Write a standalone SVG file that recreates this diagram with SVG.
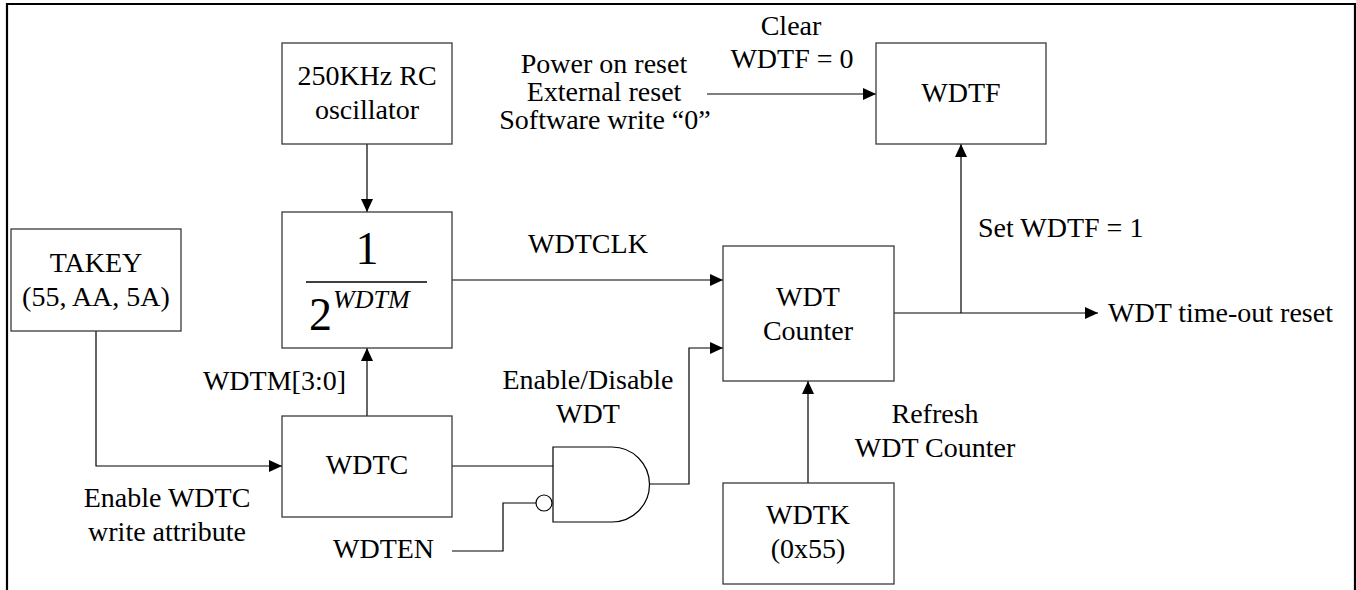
<svg xmlns="http://www.w3.org/2000/svg" width="1356" height="590" viewBox="0 0 1356 590">
<style>
.box{fill:#fff;stroke:#3a3a3a;stroke-width:1.3}
.wire{fill:none;stroke:#000;stroke-width:1.2}
.arr{marker-end:url(#ah)}
text{font-family:"Liberation Serif","Times New Roman",serif;font-size:28px;fill:#000}
.c{text-anchor:middle}
</style>
<defs>
<marker id="ah" markerUnits="userSpaceOnUse" markerWidth="13" markerHeight="12" refX="13" refY="6" orient="auto">
<path d="M0,0 L13,6 L0,12 Z" fill="#000"/>
</marker>
</defs>
<rect width="1356" height="590" fill="#fff"/>
<path d="M7,590 V4 H1355 V590" fill="none" stroke="#000" stroke-width="2.2"/>

<g id="connectors">
<path class="wire arr" d="M367,144 V212"/>
<path class="wire arr" d="M367,416 V348"/>
<path class="wire arr" d="M452,280 H723"/>
<path class="wire arr" d="M96,331 V466 H282"/>
<path class="wire" d="M452,466 H553"/>
<path class="wire" d="M452,551 H503 V503 H536"/>
<path class="wire arr" d="M650,484 H689 V348 H723"/>
<path class="wire arr" d="M808,483 V381"/>
<path class="wire arr" d="M894,313 H1098"/>
<path class="wire arr" d="M961,313 V144"/>
<path class="wire arr" d="M707,94 H876"/>
</g>

<g id="oscillator">
<rect class="box" x="282" y="43" width="170" height="101"/>
<text class="c" x="367" y="85">250KHz RC</text>
<text class="c" x="367" y="119">oscillator</text>
</g>

<g id="divider">
<rect class="box" x="282" y="212" width="170" height="136"/>
<text class="c" x="367" y="264" style="font-size:46px">1</text>
<line x1="306" y1="282" x2="427" y2="282" stroke="#000" stroke-width="1.6"/>
<text x="309" y="330" style="font-size:46px">2</text>
<text x="333" y="308" style="font-size:26px;font-style:italic">WDTM</text>
</g>

<g id="takey">
<rect class="box" x="11" y="229" width="170" height="102"/>
<text class="c" x="96" y="272">TAKEY</text>
<text class="c" x="96" y="306">(55, AA, 5A)</text>
</g>

<g id="wdtc">
<rect class="box" x="282" y="416" width="170" height="101"/>
<text class="c" x="367" y="474">WDTC</text>
</g>

<g id="and-gate">
<path d="M553,447 H612 A37.5,37.5 0 0 1 612,522 H553 Z" fill="#fff" stroke="#000" stroke-width="1.2"/>
<circle cx="544" cy="503" r="8" fill="#fff" stroke="#000" stroke-width="1.2"/>
</g>

<g id="counter">
<rect class="box" x="723" y="246" width="171" height="135"/>
<text class="c" x="808" y="306">WDT</text>
<text class="c" x="808" y="340">Counter</text>
</g>

<g id="wdtk">
<rect class="box" x="723" y="483" width="171" height="101"/>
<text class="c" x="808" y="524">WDTK</text>
<text class="c" x="808" y="558">(0x55)</text>
</g>

<g id="wdtf">
<rect class="box" x="876" y="43" width="170" height="101"/>
<text class="c" x="961" y="102">WDTF</text>
</g>

<g id="labels">
<text class="c" x="791" y="35">Clear</text>
<text class="c" x="792" y="68">WDTF = 0</text>
<text class="c" x="604" y="73">Power on reset</text>
<text class="c" x="604" y="101">External reset</text>
<text class="c" x="605" y="129">Software write “0”</text>
<text class="c" x="588" y="253">WDTCLK</text>
<text x="978" y="237">Set WDTF = 1</text>
<text x="1108" y="322">WDT time-out reset</text>
<text x="346" y="390" text-anchor="end">WDTM[3:0]</text>
<text class="c" x="588" y="389">Enable/Disable</text>
<text class="c" x="588" y="423">WDT</text>
<text class="c" x="167" y="507">Enable WDTC</text>
<text class="c" x="167" y="541">write attribute</text>
<text x="333" y="558">WDTEN</text>
<text class="c" x="935" y="423">Refresh</text>
<text class="c" x="935" y="457">WDT Counter</text>
</g>
</svg>
